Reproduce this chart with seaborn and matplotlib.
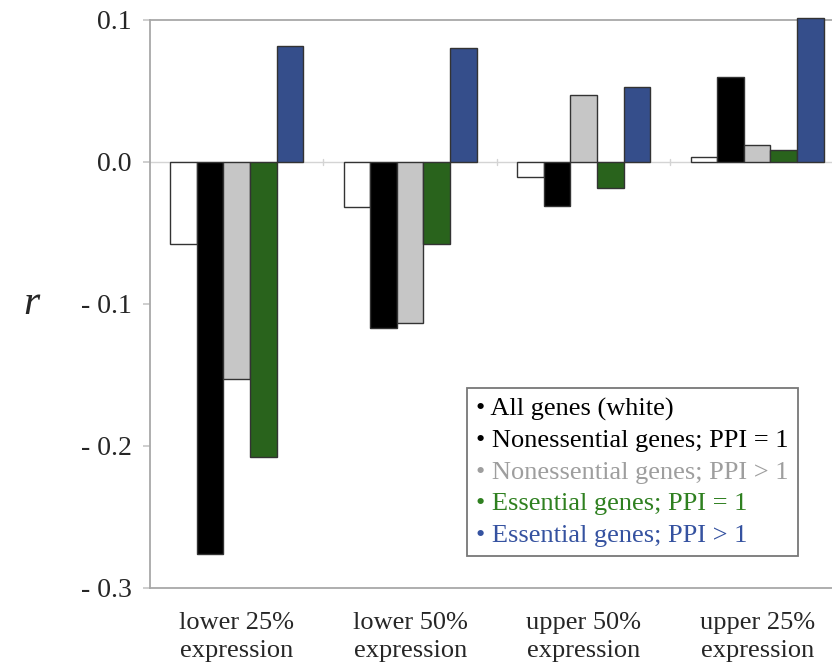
import matplotlib
matplotlib.use("Agg")
import matplotlib.pyplot as plt
import seaborn as sns
import pandas as pd
from matplotlib.lines import Line2D

# Expression bins and correlation coefficients per gene class
categories = ["lower 25%\nexpression", "lower 50%\nexpression",
              "upper 50%\nexpression", "upper 25%\nexpression"]
series_names = ["All genes (white)", "Nonessential genes; PPI = 1",
                "Nonessential genes; PPI > 1", "Essential genes; PPI = 1",
                "Essential genes; PPI > 1"]
all_genes = [-0.058, -0.032, -0.0106, 0.0035]
noness_ppi1 = [-0.276, -0.1166, -0.031, 0.060]
noness_ppi_gt1 = [-0.153, -0.1136, 0.047, 0.012]
ess_ppi1 = [-0.208, -0.0575, -0.018, 0.0085]
ess_ppi_gt1 = [0.082, 0.080, 0.053, 0.1015]

ytick_values = [-0.3, -0.2, -0.1, 0.0, 0.1]
ytick_labels = ["- 0.3", "- 0.2", "- 0.1", "0.0", "0.1"]

bar_colors = ["#ffffff", "#000000", "#c6c6c6", "#226f10", "#26489a"]
text_colors = ["#000000", "#000000", "#9e9e9e", "#2f8020", "#3552a0"]

series_values = [all_genes, noness_ppi1, noness_ppi_gt1, ess_ppi1, ess_ppi_gt1]
rows = []
for name, vals in zip(series_names, series_values):
    for cat, v in zip(categories, vals):
        rows.append({"bin": cat, "group": name, "r": v})
df = pd.DataFrame(rows)

sns.set_theme(style="white")
plt.rcParams["font.family"] = ["Liberation Serif", "DejaVu Serif"]

fig = plt.figure(figsize=(8.32, 6.71), dpi=100)
ax = fig.add_axes([0.1803, 0.1237, 0.834, 0.8465])

sns.barplot(data=df, x="bin", y="r", hue="group", order=categories,
            hue_order=series_names, palette=bar_colors, width=0.765,
            edgecolor="#333333", linewidth=1.0, errorbar=None,
            legend=False, ax=ax, zorder=3)
for p in ax.patches:
    p.set_clip_on(False)

ax.set_xlim(-0.5, 3.5)
ax.set_ylim(-0.3, 0.1)

# zero reference line with small separators between bins
ax.axhline(0, color="#d4d4d4", lw=1.0, zorder=1)
for b in [0.5, 1.5, 2.5]:
    ax.plot([b, b], [-0.002, 0.002], color="#d4d4d4", lw=1.0, zorder=1)

for side in ["left", "top", "bottom"]:
    ax.spines[side].set_color("#a8a8a8")
    ax.spines[side].set_linewidth(1.3)
ax.spines["right"].set_visible(False)

ax.set_yticks(ytick_values)
ax.set_yticklabels(ytick_labels, fontsize=20)
ax.tick_params(axis="y", length=5, color="#c8c8c8", pad=8, left=True)
ax.tick_params(axis="x", length=0, pad=17.5, labelsize=19)
for lbl in ax.get_xticklabels():
    lbl.set_linespacing(1.35)

ax.set_xlabel("")
ax.set_ylabel("r", fontsize=30, style="italic", rotation=0,
              va="center", ha="center")
ax.yaxis.set_label_coords(-0.171, 0.5)

# Legend: colored bullet text entries
handles = [Line2D([], [], linestyle="none") for _ in series_names]
labels = "\u2022 " + pd.Series(series_names)
leg = ax.legend(handles, list(labels), loc="lower left",
                bbox_to_anchor=(0.4568, 0.0563), borderaxespad=0,
                frameon=True, handlelength=0, handletextpad=0, fontsize=19,
                labelspacing=0.30, borderpad=0.36, fancybox=False)
leg.get_frame().set_edgecolor("#555555")
leg.get_frame().set_linewidth(1.3)
for txt, c in zip(leg.get_texts(), text_colors):
    txt.set_color(c)

fig.savefig("out.png", dpi=100, facecolor="white")
